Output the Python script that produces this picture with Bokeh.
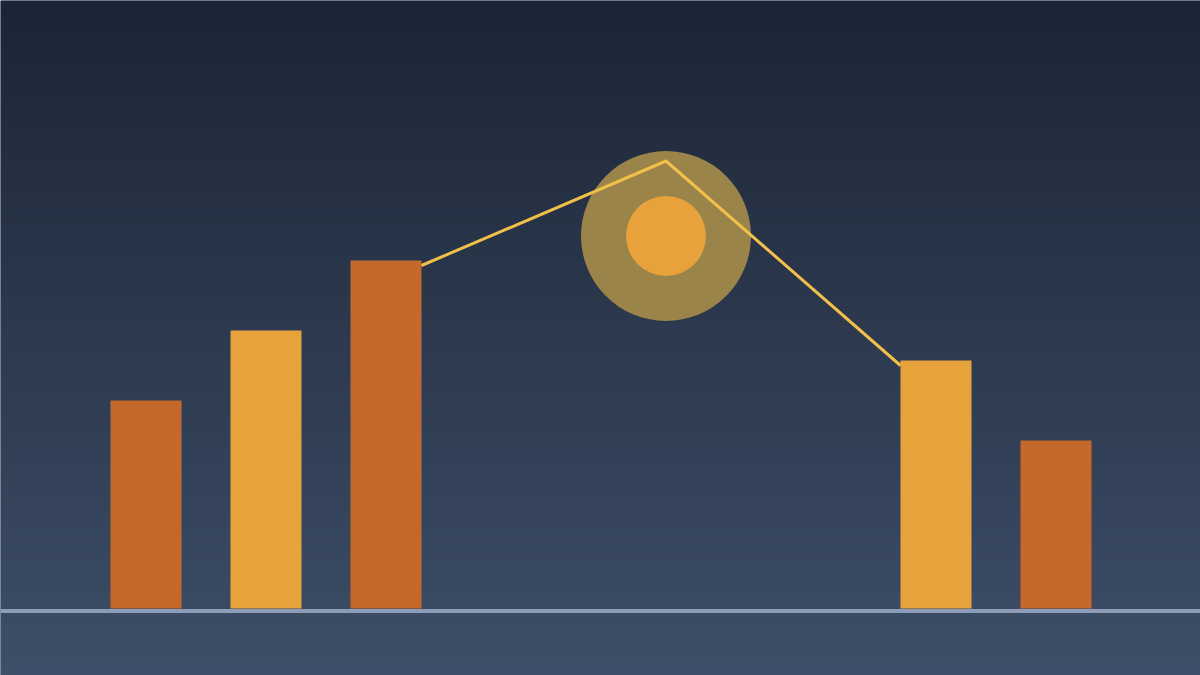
import numpy as np
from bokeh.plotting import figure
from bokeh.models import Range1d
from bokeh.embed import file_html
from bokeh.resources import INLINE

# data (pixel-like units: x = horizontal position, value = height above baseline)
bar_x = [145.5, 265.5, 385.5, 935.5, 1055.5]
bar_values = [208, 278, 348, 248, 168]
bar_colors = ["#c4692b", "#e8a23c", "#c4692b", "#e8a23c", "#c4692b"]
bar_width = 71

line_x = [421, 665.5, 900]
line_values = [343, 447.5, 243]

marker_x = [665.5]
marker_value = [372.5]
marker_outer_r = 85
marker_inner_r = 40

W, H = 1200, 675
Y0, Y1 = -67, 608
p = figure(width=W, height=H, output_backend="svg", toolbar_location=None,
           x_range=Range1d(0, 1200), y_range=Range1d(Y0, Y1),
           min_border=0, outline_line_color=None)
p.axis.visible = False
p.grid.visible = False
p.background_fill_color = "#2b3850"
p.border_fill_color = "#2b3850"

# vertical gradient background
n = 200
top = np.array([0x1c, 0x25, 0x35], dtype=float)
bot = np.array([0x3e, 0x4f, 0x69], dtype=float)
t = np.linspace(0, 1, n)[:, None]
cols = (bot * (1 - t) + top * t).astype(np.uint32)  # row 0 is bottom
img = np.empty((n, 1), dtype=np.uint32)
view = img.view(dtype=np.uint8).reshape((n, 1, 4))
view[:, 0, 0] = cols[:, 0]
view[:, 0, 1] = cols[:, 1]
view[:, 0, 2] = cols[:, 2]
view[:, 0, 3] = 255
p.image_rgba(image=[img], x=0, y=Y0, dw=1200, dh=Y1 - Y0)

# bars
p.vbar(x=bar_x, top=bar_values, bottom=0, width=bar_width,
       fill_color=bar_colors, line_color=None)

# baseline
p.segment(x0=[0], y0=[-2.5], x1=[1200], y1=[-2.5], line_color="#8d9db7", line_width=4)

# highlight marker
p.circle(x=marker_x, y=marker_value, radius=marker_outer_r,
         fill_color="#9a8449", line_color=None)
p.line(x=line_x, y=line_values, line_color="#f2c04a", line_width=3)
p.circle(x=marker_x, y=marker_value, radius=marker_inner_r,
         fill_color="#e8a23c", line_color=None)

open("out.html", "w").write(file_html(p, INLINE))
